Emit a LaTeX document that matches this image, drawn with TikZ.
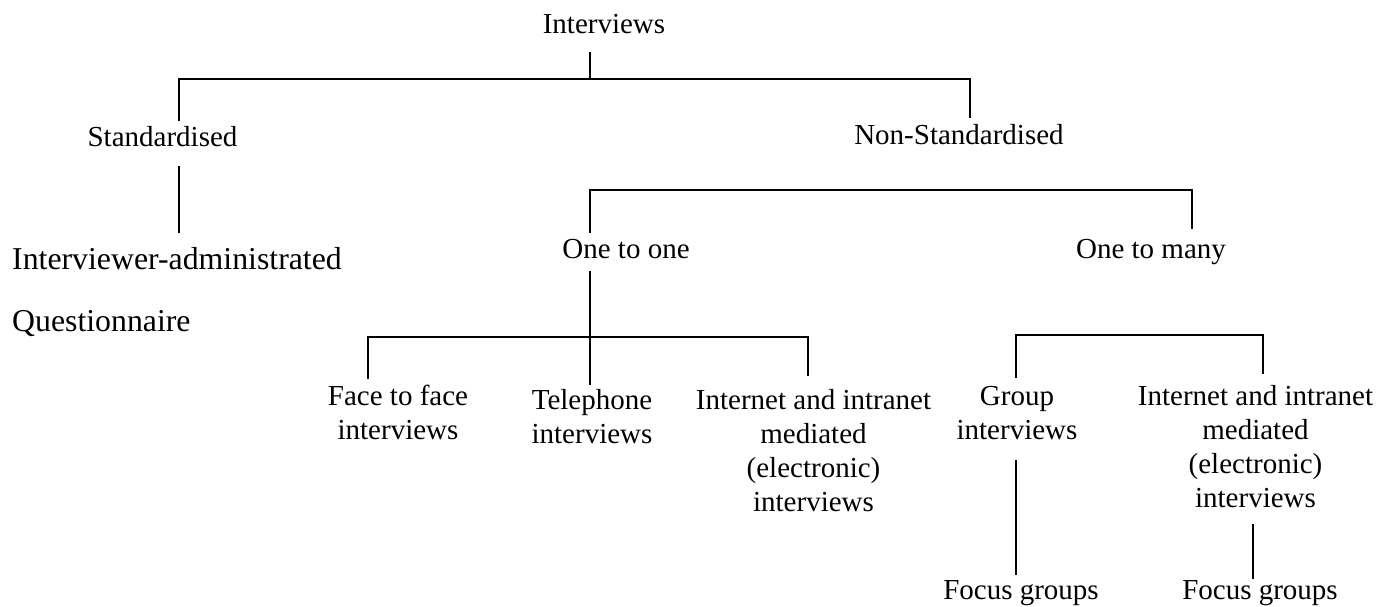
\documentclass[tikz,border=0pt]{standalone}
\usepackage{fontspec}
\setmainfont{Liberation Serif}
\begin{document}
\begin{tikzpicture}[x=1pt,y=-1pt,
  lbl/.style={anchor=base,inner sep=0pt,align=center,
              font=\fontsize{29}{34}\selectfont},
  biglbl/.style={anchor=base west,inner sep=0pt,
              font=\fontsize{31.8}{36}\selectfont},
  wire/.style={line width=2.2pt,line cap=rect}]
\useasboundingbox (0,0) rectangle (1393,606);

% ---- labels (multi-line labels are placed by their last baseline) ----
\node[lbl] (root) at (604,33) {Interviews};
\node[lbl] (std) at (162.5,146) {Standardised};
\node[lbl] (nstd) at (959,144) {Non-Standardised};
\node[biglbl] (iadm) at (12,269) {Interviewer-administrated};
\node[biglbl] (quest) at (12,331) {Questionnaire};
\node[lbl] (o2o) at (626,258) {One to one};
\node[lbl] (o2m) at (1151,258) {One to many};
\node[lbl] (f2f) at (398,439) {Face to face\\interviews};
\node[lbl] (tel) at (592,443) {Telephone\\interviews};
\node[lbl] (net1) at (813.5,511) {Internet and intranet\\mediated\\(electronic)\\interviews};
\node[lbl] (grp) at (1017,439) {Group\\interviews};
\node[lbl] (net2) at (1255.5,507) {Internet and intranet\\mediated\\(electronic)\\interviews};
\node[lbl] (fg1) at (1021,599) {Focus groups};
\node[lbl] (fg2) at (1260,599) {Focus groups};

% ---- connector points ----
\coordinate (rootS) at (590,53);
\coordinate (busA) at (590,79);
\coordinate (busAl) at (179,79);
\coordinate (busAr) at (970,79);
\coordinate (stdN) at (179,120);
\coordinate (nstdN) at (970,117);
\coordinate (stdS) at (179,167);
\coordinate (iadmN) at (179,232);
\coordinate (busBl) at (590,190);
\coordinate (busBr) at (1192,190);
\coordinate (o2oN) at (590,232);
\coordinate (o2mN) at (1192,228);
\coordinate (o2oS) at (590,272);
\coordinate (busCl) at (368,337);
\coordinate (busCr) at (808,337);
\coordinate (telN) at (590,384);
\coordinate (f2fN) at (368,378);
\coordinate (net1N) at (808,375);
\coordinate (busDl) at (1016,335);
\coordinate (busDr) at (1263,335);
\coordinate (grpN) at (1016,377);
\coordinate (net2N) at (1263,373);
\coordinate (grpS) at (1016,461);
\coordinate (fg1N) at (1016,574);
\coordinate (net2S) at (1253,525);
\coordinate (fg2N) at (1253,578);

% ---- connectors ----
\draw[wire] (rootS) -- (busA);
\draw[wire] (stdN) -- (busAl) -- (busAr) -- (nstdN);
\draw[wire] (stdS) -- (iadmN);
\draw[wire] (o2oN) -- (busBl) -- (busBr) -- (o2mN);
\draw[wire] (o2oS) -- (telN);
\draw[wire] (f2fN) -- (busCl) -- (busCr) -- (net1N);
\draw[wire] (grpN) -- (busDl) -- (busDr) -- (net2N);
\draw[wire] (grpS) -- (fg1N);
\draw[wire] (net2S) -- (fg2N);
\end{tikzpicture}
\end{document}
